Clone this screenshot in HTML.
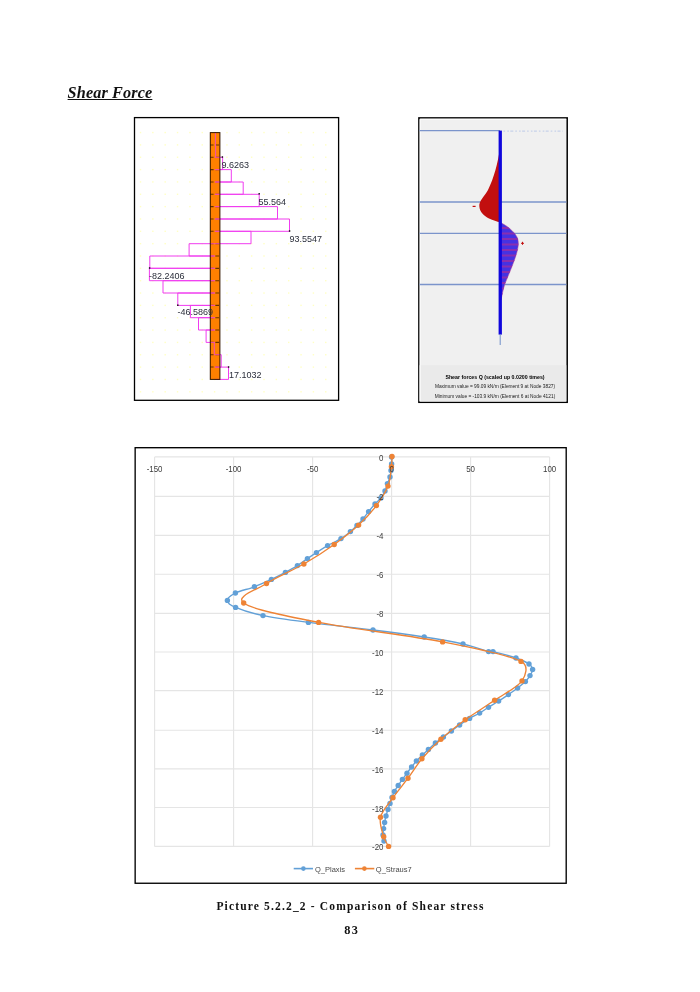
<!DOCTYPE html>
<html><head><meta charset="utf-8"><title>Shear Force</title>
<style>
html,body{margin:0;padding:0;background:#fff;}
body{width:700px;height:992px;position:relative;overflow:hidden;}
.h{position:absolute;left:67.6px;top:82.9px;font:italic bold 16.2px "Liberation Serif",serif;letter-spacing:0.14px;color:#111;text-decoration:underline;white-space:nowrap;line-height:20px;}
.cap{position:absolute;font:bold 11.5px "Liberation Serif",serif;color:#111;white-space:nowrap;}
svg{position:absolute;left:0;top:0;}
</style></head><body>
<div class="h">Shear Force</div>
<svg width="700" height="992" viewBox="0 0 700 992">
<g id="strand">
<rect x="134.5" y="117.6" width="204.1" height="282.7" fill="#fff" stroke="#000" stroke-width="1.3"/>
<g fill="#ffffc4"><rect x="139.80" y="131.85" width="1.4" height="1.4"/><rect x="139.80" y="144.20" width="1.4" height="1.4"/><rect x="139.80" y="156.54" width="1.4" height="1.4"/><rect x="139.80" y="168.89" width="1.4" height="1.4"/><rect x="139.80" y="181.23" width="1.4" height="1.4"/><rect x="139.80" y="193.58" width="1.4" height="1.4"/><rect x="139.80" y="205.92" width="1.4" height="1.4"/><rect x="139.80" y="218.27" width="1.4" height="1.4"/><rect x="139.80" y="230.61" width="1.4" height="1.4"/><rect x="139.80" y="242.96" width="1.4" height="1.4"/><rect x="139.80" y="255.30" width="1.4" height="1.4"/><rect x="139.80" y="267.65" width="1.4" height="1.4"/><rect x="139.80" y="279.99" width="1.4" height="1.4"/><rect x="139.80" y="292.34" width="1.4" height="1.4"/><rect x="139.80" y="304.68" width="1.4" height="1.4"/><rect x="139.80" y="317.03" width="1.4" height="1.4"/><rect x="139.80" y="329.37" width="1.4" height="1.4"/><rect x="139.80" y="341.72" width="1.4" height="1.4"/><rect x="139.80" y="354.06" width="1.4" height="1.4"/><rect x="139.80" y="366.41" width="1.4" height="1.4"/><rect x="139.80" y="378.75" width="1.4" height="1.4"/><rect x="139.80" y="391.10" width="1.4" height="1.4"/><rect x="152.15" y="131.85" width="1.4" height="1.4"/><rect x="152.15" y="144.20" width="1.4" height="1.4"/><rect x="152.15" y="156.54" width="1.4" height="1.4"/><rect x="152.15" y="168.89" width="1.4" height="1.4"/><rect x="152.15" y="181.23" width="1.4" height="1.4"/><rect x="152.15" y="193.58" width="1.4" height="1.4"/><rect x="152.15" y="205.92" width="1.4" height="1.4"/><rect x="152.15" y="218.27" width="1.4" height="1.4"/><rect x="152.15" y="230.61" width="1.4" height="1.4"/><rect x="152.15" y="242.96" width="1.4" height="1.4"/><rect x="152.15" y="255.30" width="1.4" height="1.4"/><rect x="152.15" y="267.65" width="1.4" height="1.4"/><rect x="152.15" y="279.99" width="1.4" height="1.4"/><rect x="152.15" y="292.34" width="1.4" height="1.4"/><rect x="152.15" y="304.68" width="1.4" height="1.4"/><rect x="152.15" y="317.03" width="1.4" height="1.4"/><rect x="152.15" y="329.37" width="1.4" height="1.4"/><rect x="152.15" y="341.72" width="1.4" height="1.4"/><rect x="152.15" y="354.06" width="1.4" height="1.4"/><rect x="152.15" y="366.41" width="1.4" height="1.4"/><rect x="152.15" y="378.75" width="1.4" height="1.4"/><rect x="152.15" y="391.10" width="1.4" height="1.4"/><rect x="164.50" y="131.85" width="1.4" height="1.4"/><rect x="164.50" y="144.20" width="1.4" height="1.4"/><rect x="164.50" y="156.54" width="1.4" height="1.4"/><rect x="164.50" y="168.89" width="1.4" height="1.4"/><rect x="164.50" y="181.23" width="1.4" height="1.4"/><rect x="164.50" y="193.58" width="1.4" height="1.4"/><rect x="164.50" y="205.92" width="1.4" height="1.4"/><rect x="164.50" y="218.27" width="1.4" height="1.4"/><rect x="164.50" y="230.61" width="1.4" height="1.4"/><rect x="164.50" y="242.96" width="1.4" height="1.4"/><rect x="164.50" y="255.30" width="1.4" height="1.4"/><rect x="164.50" y="267.65" width="1.4" height="1.4"/><rect x="164.50" y="279.99" width="1.4" height="1.4"/><rect x="164.50" y="292.34" width="1.4" height="1.4"/><rect x="164.50" y="304.68" width="1.4" height="1.4"/><rect x="164.50" y="317.03" width="1.4" height="1.4"/><rect x="164.50" y="329.37" width="1.4" height="1.4"/><rect x="164.50" y="341.72" width="1.4" height="1.4"/><rect x="164.50" y="354.06" width="1.4" height="1.4"/><rect x="164.50" y="366.41" width="1.4" height="1.4"/><rect x="164.50" y="378.75" width="1.4" height="1.4"/><rect x="164.50" y="391.10" width="1.4" height="1.4"/><rect x="176.85" y="131.85" width="1.4" height="1.4"/><rect x="176.85" y="144.20" width="1.4" height="1.4"/><rect x="176.85" y="156.54" width="1.4" height="1.4"/><rect x="176.85" y="168.89" width="1.4" height="1.4"/><rect x="176.85" y="181.23" width="1.4" height="1.4"/><rect x="176.85" y="193.58" width="1.4" height="1.4"/><rect x="176.85" y="205.92" width="1.4" height="1.4"/><rect x="176.85" y="218.27" width="1.4" height="1.4"/><rect x="176.85" y="230.61" width="1.4" height="1.4"/><rect x="176.85" y="242.96" width="1.4" height="1.4"/><rect x="176.85" y="255.30" width="1.4" height="1.4"/><rect x="176.85" y="267.65" width="1.4" height="1.4"/><rect x="176.85" y="279.99" width="1.4" height="1.4"/><rect x="176.85" y="292.34" width="1.4" height="1.4"/><rect x="176.85" y="304.68" width="1.4" height="1.4"/><rect x="176.85" y="317.03" width="1.4" height="1.4"/><rect x="176.85" y="329.37" width="1.4" height="1.4"/><rect x="176.85" y="341.72" width="1.4" height="1.4"/><rect x="176.85" y="354.06" width="1.4" height="1.4"/><rect x="176.85" y="366.41" width="1.4" height="1.4"/><rect x="176.85" y="378.75" width="1.4" height="1.4"/><rect x="176.85" y="391.10" width="1.4" height="1.4"/><rect x="189.20" y="131.85" width="1.4" height="1.4"/><rect x="189.20" y="144.20" width="1.4" height="1.4"/><rect x="189.20" y="156.54" width="1.4" height="1.4"/><rect x="189.20" y="168.89" width="1.4" height="1.4"/><rect x="189.20" y="181.23" width="1.4" height="1.4"/><rect x="189.20" y="193.58" width="1.4" height="1.4"/><rect x="189.20" y="205.92" width="1.4" height="1.4"/><rect x="189.20" y="218.27" width="1.4" height="1.4"/><rect x="189.20" y="230.61" width="1.4" height="1.4"/><rect x="189.20" y="242.96" width="1.4" height="1.4"/><rect x="189.20" y="255.30" width="1.4" height="1.4"/><rect x="189.20" y="267.65" width="1.4" height="1.4"/><rect x="189.20" y="279.99" width="1.4" height="1.4"/><rect x="189.20" y="292.34" width="1.4" height="1.4"/><rect x="189.20" y="304.68" width="1.4" height="1.4"/><rect x="189.20" y="317.03" width="1.4" height="1.4"/><rect x="189.20" y="329.37" width="1.4" height="1.4"/><rect x="189.20" y="341.72" width="1.4" height="1.4"/><rect x="189.20" y="354.06" width="1.4" height="1.4"/><rect x="189.20" y="366.41" width="1.4" height="1.4"/><rect x="189.20" y="378.75" width="1.4" height="1.4"/><rect x="189.20" y="391.10" width="1.4" height="1.4"/><rect x="201.55" y="131.85" width="1.4" height="1.4"/><rect x="201.55" y="144.20" width="1.4" height="1.4"/><rect x="201.55" y="156.54" width="1.4" height="1.4"/><rect x="201.55" y="168.89" width="1.4" height="1.4"/><rect x="201.55" y="181.23" width="1.4" height="1.4"/><rect x="201.55" y="193.58" width="1.4" height="1.4"/><rect x="201.55" y="205.92" width="1.4" height="1.4"/><rect x="201.55" y="218.27" width="1.4" height="1.4"/><rect x="201.55" y="230.61" width="1.4" height="1.4"/><rect x="201.55" y="242.96" width="1.4" height="1.4"/><rect x="201.55" y="255.30" width="1.4" height="1.4"/><rect x="201.55" y="267.65" width="1.4" height="1.4"/><rect x="201.55" y="279.99" width="1.4" height="1.4"/><rect x="201.55" y="292.34" width="1.4" height="1.4"/><rect x="201.55" y="304.68" width="1.4" height="1.4"/><rect x="201.55" y="317.03" width="1.4" height="1.4"/><rect x="201.55" y="329.37" width="1.4" height="1.4"/><rect x="201.55" y="341.72" width="1.4" height="1.4"/><rect x="201.55" y="354.06" width="1.4" height="1.4"/><rect x="201.55" y="366.41" width="1.4" height="1.4"/><rect x="201.55" y="378.75" width="1.4" height="1.4"/><rect x="201.55" y="391.10" width="1.4" height="1.4"/><rect x="213.90" y="131.85" width="1.4" height="1.4"/><rect x="213.90" y="144.20" width="1.4" height="1.4"/><rect x="213.90" y="156.54" width="1.4" height="1.4"/><rect x="213.90" y="168.89" width="1.4" height="1.4"/><rect x="213.90" y="181.23" width="1.4" height="1.4"/><rect x="213.90" y="193.58" width="1.4" height="1.4"/><rect x="213.90" y="205.92" width="1.4" height="1.4"/><rect x="213.90" y="218.27" width="1.4" height="1.4"/><rect x="213.90" y="230.61" width="1.4" height="1.4"/><rect x="213.90" y="242.96" width="1.4" height="1.4"/><rect x="213.90" y="255.30" width="1.4" height="1.4"/><rect x="213.90" y="267.65" width="1.4" height="1.4"/><rect x="213.90" y="279.99" width="1.4" height="1.4"/><rect x="213.90" y="292.34" width="1.4" height="1.4"/><rect x="213.90" y="304.68" width="1.4" height="1.4"/><rect x="213.90" y="317.03" width="1.4" height="1.4"/><rect x="213.90" y="329.37" width="1.4" height="1.4"/><rect x="213.90" y="341.72" width="1.4" height="1.4"/><rect x="213.90" y="354.06" width="1.4" height="1.4"/><rect x="213.90" y="366.41" width="1.4" height="1.4"/><rect x="213.90" y="378.75" width="1.4" height="1.4"/><rect x="213.90" y="391.10" width="1.4" height="1.4"/><rect x="226.25" y="131.85" width="1.4" height="1.4"/><rect x="226.25" y="144.20" width="1.4" height="1.4"/><rect x="226.25" y="156.54" width="1.4" height="1.4"/><rect x="226.25" y="168.89" width="1.4" height="1.4"/><rect x="226.25" y="181.23" width="1.4" height="1.4"/><rect x="226.25" y="193.58" width="1.4" height="1.4"/><rect x="226.25" y="205.92" width="1.4" height="1.4"/><rect x="226.25" y="218.27" width="1.4" height="1.4"/><rect x="226.25" y="230.61" width="1.4" height="1.4"/><rect x="226.25" y="242.96" width="1.4" height="1.4"/><rect x="226.25" y="255.30" width="1.4" height="1.4"/><rect x="226.25" y="267.65" width="1.4" height="1.4"/><rect x="226.25" y="279.99" width="1.4" height="1.4"/><rect x="226.25" y="292.34" width="1.4" height="1.4"/><rect x="226.25" y="304.68" width="1.4" height="1.4"/><rect x="226.25" y="317.03" width="1.4" height="1.4"/><rect x="226.25" y="329.37" width="1.4" height="1.4"/><rect x="226.25" y="341.72" width="1.4" height="1.4"/><rect x="226.25" y="354.06" width="1.4" height="1.4"/><rect x="226.25" y="366.41" width="1.4" height="1.4"/><rect x="226.25" y="378.75" width="1.4" height="1.4"/><rect x="226.25" y="391.10" width="1.4" height="1.4"/><rect x="238.60" y="131.85" width="1.4" height="1.4"/><rect x="238.60" y="144.20" width="1.4" height="1.4"/><rect x="238.60" y="156.54" width="1.4" height="1.4"/><rect x="238.60" y="168.89" width="1.4" height="1.4"/><rect x="238.60" y="181.23" width="1.4" height="1.4"/><rect x="238.60" y="193.58" width="1.4" height="1.4"/><rect x="238.60" y="205.92" width="1.4" height="1.4"/><rect x="238.60" y="218.27" width="1.4" height="1.4"/><rect x="238.60" y="230.61" width="1.4" height="1.4"/><rect x="238.60" y="242.96" width="1.4" height="1.4"/><rect x="238.60" y="255.30" width="1.4" height="1.4"/><rect x="238.60" y="267.65" width="1.4" height="1.4"/><rect x="238.60" y="279.99" width="1.4" height="1.4"/><rect x="238.60" y="292.34" width="1.4" height="1.4"/><rect x="238.60" y="304.68" width="1.4" height="1.4"/><rect x="238.60" y="317.03" width="1.4" height="1.4"/><rect x="238.60" y="329.37" width="1.4" height="1.4"/><rect x="238.60" y="341.72" width="1.4" height="1.4"/><rect x="238.60" y="354.06" width="1.4" height="1.4"/><rect x="238.60" y="366.41" width="1.4" height="1.4"/><rect x="238.60" y="378.75" width="1.4" height="1.4"/><rect x="238.60" y="391.10" width="1.4" height="1.4"/><rect x="250.95" y="131.85" width="1.4" height="1.4"/><rect x="250.95" y="144.20" width="1.4" height="1.4"/><rect x="250.95" y="156.54" width="1.4" height="1.4"/><rect x="250.95" y="168.89" width="1.4" height="1.4"/><rect x="250.95" y="181.23" width="1.4" height="1.4"/><rect x="250.95" y="193.58" width="1.4" height="1.4"/><rect x="250.95" y="205.92" width="1.4" height="1.4"/><rect x="250.95" y="218.27" width="1.4" height="1.4"/><rect x="250.95" y="230.61" width="1.4" height="1.4"/><rect x="250.95" y="242.96" width="1.4" height="1.4"/><rect x="250.95" y="255.30" width="1.4" height="1.4"/><rect x="250.95" y="267.65" width="1.4" height="1.4"/><rect x="250.95" y="279.99" width="1.4" height="1.4"/><rect x="250.95" y="292.34" width="1.4" height="1.4"/><rect x="250.95" y="304.68" width="1.4" height="1.4"/><rect x="250.95" y="317.03" width="1.4" height="1.4"/><rect x="250.95" y="329.37" width="1.4" height="1.4"/><rect x="250.95" y="341.72" width="1.4" height="1.4"/><rect x="250.95" y="354.06" width="1.4" height="1.4"/><rect x="250.95" y="366.41" width="1.4" height="1.4"/><rect x="250.95" y="378.75" width="1.4" height="1.4"/><rect x="250.95" y="391.10" width="1.4" height="1.4"/><rect x="263.30" y="131.85" width="1.4" height="1.4"/><rect x="263.30" y="144.20" width="1.4" height="1.4"/><rect x="263.30" y="156.54" width="1.4" height="1.4"/><rect x="263.30" y="168.89" width="1.4" height="1.4"/><rect x="263.30" y="181.23" width="1.4" height="1.4"/><rect x="263.30" y="193.58" width="1.4" height="1.4"/><rect x="263.30" y="205.92" width="1.4" height="1.4"/><rect x="263.30" y="218.27" width="1.4" height="1.4"/><rect x="263.30" y="230.61" width="1.4" height="1.4"/><rect x="263.30" y="242.96" width="1.4" height="1.4"/><rect x="263.30" y="255.30" width="1.4" height="1.4"/><rect x="263.30" y="267.65" width="1.4" height="1.4"/><rect x="263.30" y="279.99" width="1.4" height="1.4"/><rect x="263.30" y="292.34" width="1.4" height="1.4"/><rect x="263.30" y="304.68" width="1.4" height="1.4"/><rect x="263.30" y="317.03" width="1.4" height="1.4"/><rect x="263.30" y="329.37" width="1.4" height="1.4"/><rect x="263.30" y="341.72" width="1.4" height="1.4"/><rect x="263.30" y="354.06" width="1.4" height="1.4"/><rect x="263.30" y="366.41" width="1.4" height="1.4"/><rect x="263.30" y="378.75" width="1.4" height="1.4"/><rect x="263.30" y="391.10" width="1.4" height="1.4"/><rect x="275.65" y="131.85" width="1.4" height="1.4"/><rect x="275.65" y="144.20" width="1.4" height="1.4"/><rect x="275.65" y="156.54" width="1.4" height="1.4"/><rect x="275.65" y="168.89" width="1.4" height="1.4"/><rect x="275.65" y="181.23" width="1.4" height="1.4"/><rect x="275.65" y="193.58" width="1.4" height="1.4"/><rect x="275.65" y="205.92" width="1.4" height="1.4"/><rect x="275.65" y="218.27" width="1.4" height="1.4"/><rect x="275.65" y="230.61" width="1.4" height="1.4"/><rect x="275.65" y="242.96" width="1.4" height="1.4"/><rect x="275.65" y="255.30" width="1.4" height="1.4"/><rect x="275.65" y="267.65" width="1.4" height="1.4"/><rect x="275.65" y="279.99" width="1.4" height="1.4"/><rect x="275.65" y="292.34" width="1.4" height="1.4"/><rect x="275.65" y="304.68" width="1.4" height="1.4"/><rect x="275.65" y="317.03" width="1.4" height="1.4"/><rect x="275.65" y="329.37" width="1.4" height="1.4"/><rect x="275.65" y="341.72" width="1.4" height="1.4"/><rect x="275.65" y="354.06" width="1.4" height="1.4"/><rect x="275.65" y="366.41" width="1.4" height="1.4"/><rect x="275.65" y="378.75" width="1.4" height="1.4"/><rect x="275.65" y="391.10" width="1.4" height="1.4"/><rect x="288.00" y="131.85" width="1.4" height="1.4"/><rect x="288.00" y="144.20" width="1.4" height="1.4"/><rect x="288.00" y="156.54" width="1.4" height="1.4"/><rect x="288.00" y="168.89" width="1.4" height="1.4"/><rect x="288.00" y="181.23" width="1.4" height="1.4"/><rect x="288.00" y="193.58" width="1.4" height="1.4"/><rect x="288.00" y="205.92" width="1.4" height="1.4"/><rect x="288.00" y="218.27" width="1.4" height="1.4"/><rect x="288.00" y="230.61" width="1.4" height="1.4"/><rect x="288.00" y="242.96" width="1.4" height="1.4"/><rect x="288.00" y="255.30" width="1.4" height="1.4"/><rect x="288.00" y="267.65" width="1.4" height="1.4"/><rect x="288.00" y="279.99" width="1.4" height="1.4"/><rect x="288.00" y="292.34" width="1.4" height="1.4"/><rect x="288.00" y="304.68" width="1.4" height="1.4"/><rect x="288.00" y="317.03" width="1.4" height="1.4"/><rect x="288.00" y="329.37" width="1.4" height="1.4"/><rect x="288.00" y="341.72" width="1.4" height="1.4"/><rect x="288.00" y="354.06" width="1.4" height="1.4"/><rect x="288.00" y="366.41" width="1.4" height="1.4"/><rect x="288.00" y="378.75" width="1.4" height="1.4"/><rect x="288.00" y="391.10" width="1.4" height="1.4"/><rect x="300.35" y="131.85" width="1.4" height="1.4"/><rect x="300.35" y="144.20" width="1.4" height="1.4"/><rect x="300.35" y="156.54" width="1.4" height="1.4"/><rect x="300.35" y="168.89" width="1.4" height="1.4"/><rect x="300.35" y="181.23" width="1.4" height="1.4"/><rect x="300.35" y="193.58" width="1.4" height="1.4"/><rect x="300.35" y="205.92" width="1.4" height="1.4"/><rect x="300.35" y="218.27" width="1.4" height="1.4"/><rect x="300.35" y="230.61" width="1.4" height="1.4"/><rect x="300.35" y="242.96" width="1.4" height="1.4"/><rect x="300.35" y="255.30" width="1.4" height="1.4"/><rect x="300.35" y="267.65" width="1.4" height="1.4"/><rect x="300.35" y="279.99" width="1.4" height="1.4"/><rect x="300.35" y="292.34" width="1.4" height="1.4"/><rect x="300.35" y="304.68" width="1.4" height="1.4"/><rect x="300.35" y="317.03" width="1.4" height="1.4"/><rect x="300.35" y="329.37" width="1.4" height="1.4"/><rect x="300.35" y="341.72" width="1.4" height="1.4"/><rect x="300.35" y="354.06" width="1.4" height="1.4"/><rect x="300.35" y="366.41" width="1.4" height="1.4"/><rect x="300.35" y="378.75" width="1.4" height="1.4"/><rect x="300.35" y="391.10" width="1.4" height="1.4"/><rect x="312.70" y="131.85" width="1.4" height="1.4"/><rect x="312.70" y="144.20" width="1.4" height="1.4"/><rect x="312.70" y="156.54" width="1.4" height="1.4"/><rect x="312.70" y="168.89" width="1.4" height="1.4"/><rect x="312.70" y="181.23" width="1.4" height="1.4"/><rect x="312.70" y="193.58" width="1.4" height="1.4"/><rect x="312.70" y="205.92" width="1.4" height="1.4"/><rect x="312.70" y="218.27" width="1.4" height="1.4"/><rect x="312.70" y="230.61" width="1.4" height="1.4"/><rect x="312.70" y="242.96" width="1.4" height="1.4"/><rect x="312.70" y="255.30" width="1.4" height="1.4"/><rect x="312.70" y="267.65" width="1.4" height="1.4"/><rect x="312.70" y="279.99" width="1.4" height="1.4"/><rect x="312.70" y="292.34" width="1.4" height="1.4"/><rect x="312.70" y="304.68" width="1.4" height="1.4"/><rect x="312.70" y="317.03" width="1.4" height="1.4"/><rect x="312.70" y="329.37" width="1.4" height="1.4"/><rect x="312.70" y="341.72" width="1.4" height="1.4"/><rect x="312.70" y="354.06" width="1.4" height="1.4"/><rect x="312.70" y="366.41" width="1.4" height="1.4"/><rect x="312.70" y="378.75" width="1.4" height="1.4"/><rect x="312.70" y="391.10" width="1.4" height="1.4"/><rect x="325.05" y="131.85" width="1.4" height="1.4"/><rect x="325.05" y="144.20" width="1.4" height="1.4"/><rect x="325.05" y="156.54" width="1.4" height="1.4"/><rect x="325.05" y="168.89" width="1.4" height="1.4"/><rect x="325.05" y="181.23" width="1.4" height="1.4"/><rect x="325.05" y="193.58" width="1.4" height="1.4"/><rect x="325.05" y="205.92" width="1.4" height="1.4"/><rect x="325.05" y="218.27" width="1.4" height="1.4"/><rect x="325.05" y="230.61" width="1.4" height="1.4"/><rect x="325.05" y="242.96" width="1.4" height="1.4"/><rect x="325.05" y="255.30" width="1.4" height="1.4"/><rect x="325.05" y="267.65" width="1.4" height="1.4"/><rect x="325.05" y="279.99" width="1.4" height="1.4"/><rect x="325.05" y="292.34" width="1.4" height="1.4"/><rect x="325.05" y="304.68" width="1.4" height="1.4"/><rect x="325.05" y="317.03" width="1.4" height="1.4"/><rect x="325.05" y="329.37" width="1.4" height="1.4"/><rect x="325.05" y="341.72" width="1.4" height="1.4"/><rect x="325.05" y="354.06" width="1.4" height="1.4"/><rect x="325.05" y="366.41" width="1.4" height="1.4"/><rect x="325.05" y="378.75" width="1.4" height="1.4"/><rect x="325.05" y="391.10" width="1.4" height="1.4"/></g>
<rect x="210" y="132.6" width="10" height="246.8" fill="#ff8000"/>
<g stroke="#2a1400" stroke-width="1.1" stroke-dasharray="3.6 1.8"><line x1="210" y1="144.94" x2="220" y2="144.94"/><line x1="210" y1="157.28" x2="220" y2="157.28"/><line x1="210" y1="169.62" x2="220" y2="169.62"/><line x1="210" y1="181.96" x2="220" y2="181.96"/><line x1="210" y1="194.30" x2="220" y2="194.30"/><line x1="210" y1="206.64" x2="220" y2="206.64"/><line x1="210" y1="218.98" x2="220" y2="218.98"/><line x1="210" y1="231.32" x2="220" y2="231.32"/><line x1="210" y1="243.66" x2="220" y2="243.66"/><line x1="210" y1="256.00" x2="220" y2="256.00"/><line x1="210" y1="268.34" x2="220" y2="268.34"/><line x1="210" y1="280.68" x2="220" y2="280.68"/><line x1="210" y1="293.02" x2="220" y2="293.02"/><line x1="210" y1="305.36" x2="220" y2="305.36"/><line x1="210" y1="317.70" x2="220" y2="317.70"/><line x1="210" y1="330.04" x2="220" y2="330.04"/><line x1="210" y1="342.38" x2="220" y2="342.38"/><line x1="210" y1="354.72" x2="220" y2="354.72"/><line x1="210" y1="367.06" x2="220" y2="367.06"/></g>
<path d="M214.9 132.6H215.4V144.9H214.9M214.9 144.9H215.6V157.3H214.9M214.9 157.3H222.6V169.6H214.9M214.9 169.6H231.3V182.0H214.9M214.9 182.0H243.2V194.3H214.9M214.9 194.3H259.2V206.6H214.9M214.9 206.6H277.5V219.0H214.9M214.9 219.0H289.5V231.3H214.9M214.9 231.3H251.0V243.7H214.9M214.9 243.7H189.1V256.0H214.9M214.9 256.0H149.8V268.3H214.9M214.9 268.3H149.4V280.7H214.9M214.9 280.7H163.0V293.0H214.9M214.9 293.0H177.8V305.4H214.9M214.9 305.4H190.4V317.7H214.9M214.9 317.7H198.5V330.0H214.9M214.9 330.0H206.1V342.4H214.9M214.9 342.4H214.3V354.7H214.9M214.9 354.7H221.2V367.1H214.9M214.9 367.1H228.5V379.4H214.9" fill="none" stroke="#f03cf0" stroke-width="1"/>
<rect x="210" y="132.6" width="10" height="246.8" fill="#ff8000" fill-opacity="0.28"/>
<rect x="210.3" y="132.6" width="9.6" height="246.8" fill="none" stroke="#331800" stroke-width="1"/>
<rect x="221.7" y="156.3" width="1.4" height="1.4" fill="#000"/>
<rect x="258.5" y="193.1" width="1.4" height="1.4" fill="#000"/>
<rect x="288.9" y="230.3" width="1.4" height="1.4" fill="#000"/>
<rect x="148.9" y="267.3" width="1.4" height="1.4" fill="#000"/>
<rect x="177.1" y="304.5" width="1.4" height="1.4" fill="#000"/>
<rect x="227.9" y="366.3" width="1.4" height="1.4" fill="#000"/>
<g font-family="'Liberation Sans', sans-serif" font-size="9" fill="#2a2e3a"><text x="221.4" y="168.4">9.6263</text><text x="258.4" y="204.5">55.564</text><text x="289.5" y="241.6">93.5547</text><text x="149.0" y="279.2">-82.2406</text><text x="177.5" y="315.3">-46.5869</text><text x="229.0" y="377.6">17.1032</text></g>
</g>
<g id="plaxis">
<rect x="418.9" y="117.9" width="148.3" height="284.4" fill="#f0f0f0" stroke="#000" stroke-width="1.5"/>
<rect x="419.6" y="365.2" width="146.7" height="36.4" fill="#eaeaea"/>
<path d="M420.1 401V119.2H566.2" fill="none" stroke="#fff" stroke-width="1"/>
<g stroke="#7b94cb" stroke-width="1.4"><line x1="419.5" y1="130.6" x2="500" y2="130.6"/><line x1="419.5" y1="202" x2="566.3" y2="202"/><line x1="419.5" y1="233.4" x2="566.3" y2="233.4"/><line x1="419.5" y1="284.5" x2="566.3" y2="284.5"/></g>
<line x1="503.5" y1="131.1" x2="563" y2="131.1" stroke="#bccae8" stroke-width="1" stroke-dasharray="1.6 2.2 1.6 1.4 3 2"/>
<path d="M499.5 151 C498 162 494 178 488 190 C484 197 479 201 479.3 206 C479.6 212 484 216 489 218.5 C493 220.5 497 221.5 500 222.3 Z" fill="#c20f0f"/>
<path d="M500 222.3 C506 225 514 231 517 237 C519 241 518.6 246 517 252 C514 263 508 276 504.7 284.5 C503 290 502 296 501 300 L500 300 Z" fill="#4632e2" stroke="#c04a90" stroke-width="0.5"/>
<clipPath id="cb"><path d="M500 222.3 C506 225 514 231 517 237 C519 241 518.6 246 517 252 C514 263 508 276 504.7 284.5 C503 290 502 296 501 300 L500 300 Z"/></clipPath>
<g clip-path="url(#cb)" stroke="#8a2eb0" stroke-width="1.8"><line x1="501" y1="228.0" x2="519" y2="228.0"/><line x1="501" y1="233.5" x2="519" y2="233.5"/><line x1="501" y1="239.0" x2="519" y2="239.0"/><line x1="501" y1="244.5" x2="519" y2="244.5"/><line x1="501" y1="250.0" x2="519" y2="250.0"/><line x1="501" y1="255.5" x2="519" y2="255.5"/><line x1="501" y1="261.0" x2="519" y2="261.0"/><line x1="501" y1="266.5" x2="519" y2="266.5"/><line x1="501" y1="272.0" x2="519" y2="272.0"/><line x1="501" y1="277.5" x2="519" y2="277.5"/><line x1="501" y1="283.0" x2="519" y2="283.0"/><line x1="501" y1="288.5" x2="519" y2="288.5"/><line x1="501" y1="294.0" x2="519" y2="294.0"/></g>
<rect x="498.6" y="130.6" width="3.3" height="204" fill="#1006dc"/>
<line x1="500.2" y1="334" x2="500.2" y2="345" stroke="#6f8fc8" stroke-width="1"/>
<rect x="472.6" y="205.8" width="3" height="1.2" fill="#c20f0f"/>
<path d="M521 243.3h3M522.5 241.8v3" stroke="#c20f0f" stroke-width="1" fill="none"/>
<g font-family="'Liberation Sans', sans-serif" fill="#222" text-anchor="middle"><text x="495" y="378.6" font-size="5.25" font-weight="bold" fill="#000">Shear forces Q (scaled up 0.0200 times)</text><text x="495" y="388.3" font-size="4.82">Maximum value = 99.09 kN/m (Element 9 at Node 3827)</text><text x="495" y="397.6" font-size="4.82">Minimum value = -103.9 kN/m (Element 6 at Node 4121)</text></g>
</g>
<g id="chart">
<rect x="135.15" y="447.7" width="431.05" height="435.55" fill="#fff" stroke="#000" stroke-width="1.35"/>
<g stroke="#e5e5e5" stroke-width="1.15"><line x1="154.6" y1="456.9" x2="154.6" y2="846.4"/><line x1="233.6" y1="456.9" x2="233.6" y2="846.4"/><line x1="312.6" y1="456.9" x2="312.6" y2="846.4"/><line x1="391.6" y1="456.9" x2="391.6" y2="846.4"/><line x1="470.6" y1="456.9" x2="470.6" y2="846.4"/><line x1="549.6" y1="456.9" x2="549.6" y2="846.4"/><line x1="154.6" y1="456.9" x2="549.6" y2="456.9"/><line x1="154.6" y1="496.3" x2="549.6" y2="496.3"/><line x1="154.6" y1="535.3" x2="549.6" y2="535.3"/><line x1="154.6" y1="574.2" x2="549.6" y2="574.2"/><line x1="154.6" y1="613.4" x2="549.6" y2="613.4"/><line x1="154.6" y1="652.0" x2="549.6" y2="652.0"/><line x1="154.6" y1="690.6" x2="549.6" y2="690.6"/><line x1="154.6" y1="730.2" x2="549.6" y2="730.2"/><line x1="154.6" y1="768.9" x2="549.6" y2="768.9"/><line x1="154.6" y1="807.5" x2="549.6" y2="807.5"/><line x1="154.6" y1="846.4" x2="549.6" y2="846.4"/></g>
<path d="M391.6 457.0 C391.6 459.3 391.7 461.8 391.6 464.0 C391.5 466.2 391.3 468.3 391.0 470.5 C390.7 472.7 390.6 474.8 390.0 477.0 C389.4 479.2 388.2 481.3 387.4 483.6 C386.6 485.9 386.1 488.6 385.0 491.0 C383.9 493.4 382.7 495.8 381.0 498.0 C379.3 500.2 377.1 501.7 375.0 504.0 C372.9 506.3 370.6 509.1 368.6 511.6 C366.6 514.1 364.9 516.7 363.0 519.0 C361.1 521.3 359.1 523.3 357.0 525.4 C354.9 527.5 353.1 529.4 350.4 531.6 C347.7 533.8 344.8 536.3 341.0 538.6 C337.2 540.9 331.7 543.3 327.6 545.6 C323.5 547.9 319.8 550.4 316.4 552.6 C313.0 554.8 310.6 556.4 307.4 558.6 C304.2 560.8 301.1 563.3 297.4 565.6 C293.7 567.9 289.7 570.1 285.4 572.4 C281.1 574.7 276.6 577.0 271.4 579.4 C266.2 581.8 260.4 584.5 254.4 586.8 C248.4 589.1 239.9 590.7 235.4 593.0 C230.9 595.3 227.4 598.0 227.4 600.4 C227.4 602.4 230.6 605.3 235.6 607.4 C241.5 609.9 250.9 613.1 263.0 615.6 C275.1 618.1 290.1 620.0 308.4 622.4 C326.7 624.8 353.7 627.6 373.0 630.0 C392.3 632.4 409.2 634.7 424.2 637.0 C439.2 639.3 452.3 641.6 463.0 644.0 C473.7 646.4 483.6 650.3 488.6 651.6 C490.7 652.1 490.9 651.1 493.0 651.6 C497.6 652.7 510.0 655.9 516.0 658.0 C522.0 660.1 526.2 662.1 529.0 664.0 C531.7 665.8 532.4 667.5 532.6 669.4 C532.8 671.3 531.2 673.6 530.0 675.6 C528.8 677.6 527.5 679.5 525.4 681.6 C523.3 683.7 520.4 685.8 517.6 688.0 C514.8 690.2 511.6 692.4 508.4 694.6 C505.2 696.8 501.9 698.9 498.6 701.0 C495.3 703.1 491.7 705.3 488.5 707.3 C485.3 709.3 482.8 711.1 479.6 713.0 C476.5 714.9 472.9 716.4 469.6 718.4 C466.3 720.4 462.6 722.9 459.6 725.0 C456.6 727.1 454.1 729.0 451.4 731.0 C448.7 733.0 446.1 735.0 443.4 737.0 C440.7 739.0 437.9 740.9 435.4 743.0 C432.9 745.1 430.6 747.4 428.4 749.4 C426.2 751.4 424.4 753.1 422.4 755.0 C420.4 756.9 418.2 759.0 416.4 761.0 C414.6 763.0 413.2 765.0 411.6 767.0 C410.0 769.0 408.5 771.1 407.0 773.2 C405.5 775.3 403.9 777.4 402.4 779.4 C400.9 781.4 399.5 783.5 398.2 785.5 C396.9 787.5 395.4 789.4 394.4 791.4 C393.4 793.4 392.7 795.4 392.0 797.4 C391.3 799.4 390.7 801.4 390.0 803.4 C389.3 805.4 388.7 807.3 388.0 809.4 C387.3 811.5 386.6 813.8 386.0 816.0 C385.4 818.2 385.0 820.3 384.6 822.4 C384.2 824.5 383.9 826.5 383.6 828.6 C383.3 830.7 382.9 832.9 383.0 835.0 C383.1 837.1 383.7 839.0 384.0 841.0" fill="none" stroke="#62a0d7" stroke-width="1.35" stroke-linejoin="round"/>
<circle cx="391.6" cy="457.0" r="2.7" fill="#62a0d7"/><circle cx="391.6" cy="464.0" r="2.7" fill="#62a0d7"/><circle cx="391.0" cy="470.5" r="2.7" fill="#62a0d7"/><circle cx="390.0" cy="477.0" r="2.7" fill="#62a0d7"/><circle cx="387.4" cy="483.6" r="2.7" fill="#62a0d7"/><circle cx="385.0" cy="491.0" r="2.7" fill="#62a0d7"/><circle cx="381.0" cy="498.0" r="2.7" fill="#62a0d7"/><circle cx="375.0" cy="504.0" r="2.7" fill="#62a0d7"/><circle cx="368.6" cy="511.6" r="2.7" fill="#62a0d7"/><circle cx="363.0" cy="519.0" r="2.7" fill="#62a0d7"/><circle cx="357.0" cy="525.4" r="2.7" fill="#62a0d7"/><circle cx="350.4" cy="531.6" r="2.7" fill="#62a0d7"/><circle cx="341.0" cy="538.6" r="2.7" fill="#62a0d7"/><circle cx="327.6" cy="545.6" r="2.7" fill="#62a0d7"/><circle cx="316.4" cy="552.6" r="2.7" fill="#62a0d7"/><circle cx="307.4" cy="558.6" r="2.7" fill="#62a0d7"/><circle cx="297.4" cy="565.6" r="2.7" fill="#62a0d7"/><circle cx="285.4" cy="572.4" r="2.7" fill="#62a0d7"/><circle cx="271.4" cy="579.4" r="2.7" fill="#62a0d7"/><circle cx="254.4" cy="586.8" r="2.7" fill="#62a0d7"/><circle cx="235.4" cy="593.0" r="2.7" fill="#62a0d7"/><circle cx="227.4" cy="600.4" r="2.7" fill="#62a0d7"/><circle cx="235.6" cy="607.4" r="2.7" fill="#62a0d7"/><circle cx="263.0" cy="615.6" r="2.7" fill="#62a0d7"/><circle cx="308.4" cy="622.4" r="2.7" fill="#62a0d7"/><circle cx="373.0" cy="630.0" r="2.7" fill="#62a0d7"/><circle cx="424.2" cy="637.0" r="2.7" fill="#62a0d7"/><circle cx="463.0" cy="644.0" r="2.7" fill="#62a0d7"/><circle cx="488.6" cy="651.6" r="2.7" fill="#62a0d7"/><circle cx="493.0" cy="651.6" r="2.7" fill="#62a0d7"/><circle cx="516.0" cy="658.0" r="2.7" fill="#62a0d7"/><circle cx="529.0" cy="664.0" r="2.7" fill="#62a0d7"/><circle cx="532.6" cy="669.4" r="2.7" fill="#62a0d7"/><circle cx="530.0" cy="675.6" r="2.7" fill="#62a0d7"/><circle cx="525.4" cy="681.6" r="2.7" fill="#62a0d7"/><circle cx="517.6" cy="688.0" r="2.7" fill="#62a0d7"/><circle cx="508.4" cy="694.6" r="2.7" fill="#62a0d7"/><circle cx="498.6" cy="701.0" r="2.7" fill="#62a0d7"/><circle cx="488.5" cy="707.3" r="2.7" fill="#62a0d7"/><circle cx="479.6" cy="713.0" r="2.7" fill="#62a0d7"/><circle cx="469.6" cy="718.4" r="2.7" fill="#62a0d7"/><circle cx="459.6" cy="725.0" r="2.7" fill="#62a0d7"/><circle cx="451.4" cy="731.0" r="2.7" fill="#62a0d7"/><circle cx="443.4" cy="737.0" r="2.7" fill="#62a0d7"/><circle cx="435.4" cy="743.0" r="2.7" fill="#62a0d7"/><circle cx="428.4" cy="749.4" r="2.7" fill="#62a0d7"/><circle cx="422.4" cy="755.0" r="2.7" fill="#62a0d7"/><circle cx="416.4" cy="761.0" r="2.7" fill="#62a0d7"/><circle cx="411.6" cy="767.0" r="2.7" fill="#62a0d7"/><circle cx="407.0" cy="773.2" r="2.7" fill="#62a0d7"/><circle cx="402.4" cy="779.4" r="2.7" fill="#62a0d7"/><circle cx="398.2" cy="785.5" r="2.7" fill="#62a0d7"/><circle cx="394.4" cy="791.4" r="2.7" fill="#62a0d7"/><circle cx="392.0" cy="797.4" r="2.7" fill="#62a0d7"/><circle cx="390.0" cy="803.4" r="2.7" fill="#62a0d7"/><circle cx="388.0" cy="809.4" r="2.7" fill="#62a0d7"/><circle cx="386.0" cy="816.0" r="2.7" fill="#62a0d7"/><circle cx="384.6" cy="822.4" r="2.7" fill="#62a0d7"/><circle cx="383.6" cy="828.6" r="2.7" fill="#62a0d7"/><circle cx="383.0" cy="835.0" r="2.7" fill="#62a0d7"/><circle cx="384.0" cy="841.0" r="2.7" fill="#62a0d7"/>
<path d="M392.0 456.4 C391.8 459.8 392.1 461.7 391.4 466.6 C390.8 471.6 390.5 479.6 388.0 486.1 C385.5 492.6 381.3 499.1 376.4 505.6 C371.5 512.1 365.6 518.6 358.6 525.1 C351.6 531.6 343.4 538.0 334.2 544.5 C325.1 551.0 315.2 557.5 303.9 564.0 C292.6 570.5 276.5 577.0 266.5 583.5 C256.4 590.0 235.0 596.5 243.7 603.0 C252.4 609.5 285.5 615.9 318.6 622.4 C351.8 628.9 408.9 635.4 442.6 641.9 C476.4 648.4 507.8 654.9 521.0 661.4 C529.8 665.7 524.9 676.6 522.0 680.9 C517.6 687.4 504.1 693.8 494.6 700.3 C485.2 706.8 474.2 713.3 465.2 719.8 C456.3 726.3 448.1 732.8 440.9 739.3 C433.7 745.8 427.4 752.3 421.9 758.8 C416.5 765.3 412.9 771.7 408.0 778.2 C403.2 784.7 397.6 791.2 393.0 797.7 C388.4 804.2 382.1 810.7 380.5 817.2 C379.0 823.7 382.4 831.8 383.7 836.7 C385.0 841.5 387.0 843.2 388.6 846.4" fill="none" stroke="#ee8335" stroke-width="1.35" stroke-linejoin="round"/>
<circle cx="392.0" cy="456.4" r="2.7" fill="#ee8335"/><circle cx="391.4" cy="466.6" r="2.7" fill="#ee8335"/><circle cx="388.0" cy="486.1" r="2.7" fill="#ee8335"/><circle cx="376.4" cy="505.6" r="2.7" fill="#ee8335"/><circle cx="358.6" cy="525.1" r="2.7" fill="#ee8335"/><circle cx="334.2" cy="544.5" r="2.7" fill="#ee8335"/><circle cx="303.9" cy="564.0" r="2.7" fill="#ee8335"/><circle cx="266.5" cy="583.5" r="2.7" fill="#ee8335"/><circle cx="243.7" cy="603.0" r="2.7" fill="#ee8335"/><circle cx="318.6" cy="622.4" r="2.7" fill="#ee8335"/><circle cx="442.6" cy="641.9" r="2.7" fill="#ee8335"/><circle cx="521.0" cy="661.4" r="2.7" fill="#ee8335"/><circle cx="522.0" cy="680.9" r="2.7" fill="#ee8335"/><circle cx="494.6" cy="700.3" r="2.7" fill="#ee8335"/><circle cx="465.2" cy="719.8" r="2.7" fill="#ee8335"/><circle cx="440.9" cy="739.3" r="2.7" fill="#ee8335"/><circle cx="421.9" cy="758.8" r="2.7" fill="#ee8335"/><circle cx="408.0" cy="778.2" r="2.7" fill="#ee8335"/><circle cx="393.0" cy="797.7" r="2.7" fill="#ee8335"/><circle cx="380.5" cy="817.2" r="2.7" fill="#ee8335"/><circle cx="383.7" cy="836.7" r="2.7" fill="#ee8335"/><circle cx="388.6" cy="846.4" r="2.7" fill="#ee8335"/>
<g font-family="'Liberation Sans', sans-serif" font-size="8.8" fill="#3c3c3c"><text transform="translate(154.6 472.3) scale(0.9 1.04)" text-anchor="middle">-150</text><text transform="translate(233.6 472.3) scale(0.9 1.04)" text-anchor="middle">-100</text><text transform="translate(312.6 472.3) scale(0.9 1.04)" text-anchor="middle">-50</text><text transform="translate(391.6 472.3) scale(0.9 1.04)" text-anchor="middle">0</text><text transform="translate(470.6 472.3) scale(0.9 1.04)" text-anchor="middle">50</text><text transform="translate(549.6 472.3) scale(0.9 1.04)" text-anchor="middle">100</text><text transform="translate(383.5 460.9) scale(0.9 1.04)" text-anchor="end">0</text><text transform="translate(383.5 500.3) scale(0.9 1.04)" text-anchor="end">-2</text><text transform="translate(383.5 539.3) scale(0.9 1.04)" text-anchor="end">-4</text><text transform="translate(383.5 578.2) scale(0.9 1.04)" text-anchor="end">-6</text><text transform="translate(383.5 617.4) scale(0.9 1.04)" text-anchor="end">-8</text><text transform="translate(383.5 656.0) scale(0.9 1.04)" text-anchor="end">-10</text><text transform="translate(383.5 694.6) scale(0.9 1.04)" text-anchor="end">-12</text><text transform="translate(383.5 734.2) scale(0.9 1.04)" text-anchor="end">-14</text><text transform="translate(383.5 772.9) scale(0.9 1.04)" text-anchor="end">-16</text><text transform="translate(383.5 811.5) scale(0.9 1.04)" text-anchor="end">-18</text><text transform="translate(383.5 850.4) scale(0.9 1.04)" text-anchor="end">-20</text></g>
<line x1="293.7" y1="868.6" x2="313" y2="868.6" stroke="#62a0d7" stroke-width="1.6"/><circle cx="303.4" cy="868.6" r="2.3" fill="#62a0d7"/>
<line x1="354.9" y1="868.6" x2="374.3" y2="868.6" stroke="#ee8335" stroke-width="1.6"/><circle cx="364.4" cy="868.6" r="2.3" fill="#ee8335"/>
<g font-family="'Liberation Sans', sans-serif" font-size="7.5" fill="#484848"><text x="315" y="871.9">Q_Plaxis</text><text x="375.8" y="871.9">Q_Straus7</text></g>
</g>
</svg>
<div class="cap" style="left:216.4px;top:899.6px;letter-spacing:1.16px;">Picture 5.2.2_2 - Comparison of Shear stress</div>
<div class="cap" style="left:344.2px;top:923.4px;font-size:12.3px;letter-spacing:1.3px;">83</div>
</body></html>
